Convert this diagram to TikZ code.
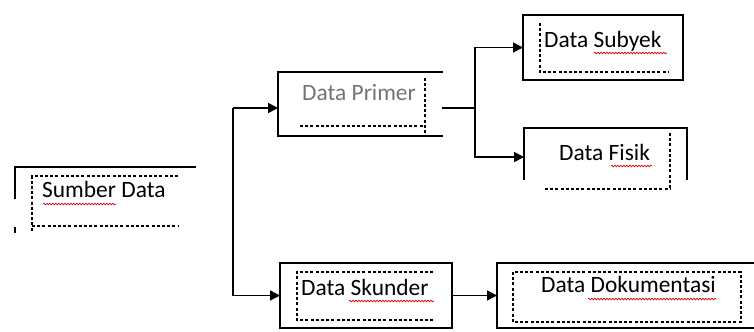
\documentclass[tikz,border=0pt]{standalone}
\usepackage{fontspec}
\setmainfont{Carlito}
\usetikzlibrary{arrows.meta,decorations.pathmorphing}

\begin{document}
\begin{tikzpicture}[x=1bp,y=-1bp,
  area/.style={draw=none,inner sep=0pt,outer sep=0pt,minimum width=#1},
  frame/.style={line width=1.8bp,line cap=rect},
  inner/.style={line width=1.4bp,dash pattern=on 3bp off 2.2bp},
  conn/.style={line width=1.5bp},
  arr/.style={conn,-{Triangle[length=10bp,width=10bp]}},
  lbl/.style={anchor=base west,inner sep=0pt,font=\fontsize{23.5}{27}\selectfont},
  spell/.style={red!85!black,line width=0.7bp,decorate,
    decoration={snake,amplitude=0.8bp,segment length=3bp}}]
\useasboundingbox (0,0) rectangle (754,331);

% invisible outer areas of the boxes
\node[area=180bp,minimum height=65bp] (sumber) at (105,199.5) {};
\node[area=164bp,minimum height=64bp] (primer) at (360,104) {};
\node[area=160bp,minimum height=65bp] (subyek) at (603,47.5) {};
\node[area=163bp,minimum height=58bp] (fisik) at (605.5,157) {};
\node[area=172bp,minimum height=65bp] (skunder) at (366,295.5) {};
\node[area=263bp,minimum height=65bp] (dokumentasi) at (628.5,295.5) {};

% labels
\node[lbl] (sumberT) at (42,197) {Sumber Data};
\node[lbl,text=black!55] (primerT) at (302,100) {Data Primer};
\node[lbl] (subyekT) at (544,47) {Data Subyek};
\node[lbl] (fisikT) at (559,160) {Data Fisik};
\node[lbl] (skunderT) at (301,295) {Data Skunder};
\node[lbl] (dokumentasiT) at (541,292) {Data Dokumentasi};

% outer frames (partly drawn)
\draw[frame] (sumber.north east) -- (sumber.north west) -- ++(0,31);
\draw[frame] (15,228) -- (15,232);
\draw[frame] (primer.north east) -- (primer.north west) -- (primer.south west) -- (primer.south east);
\draw[frame] (subyek.north west) rectangle (subyek.south east);
\draw[frame] ([yshift=7bp]fisik.south west) -- (fisik.north west) -- (fisik.north east) -- ([yshift=7bp]fisik.south east);
\draw[frame] (skunder.north west) rectangle (skunder.south east);
\draw[frame] (dokumentasi.north east) -- (dokumentasi.north west) -- (dokumentasi.south west) -- (dokumentasi.south east);

% dashed inner frames
\draw[inner] (178,176) -- (32,176) -- (32,232);
\draw[inner] (32,226) -- (178,226);
\draw[inner] (425,78) -- (425,137);
\draw[inner] (300,126) -- (425,126);
\draw[inner] (540,23) -- (540,72) -- (668,72);
\draw[inner] (670,133) -- (670,189);
\draw[inner] (545,189) -- (670,189);
\draw[inner] (433,272) -- (297,272) -- (297,320) -- (433,320);
\draw[inner] (513,272) rectangle (741,322);

% spelling marks
\draw[spell] (43,204) -- (116,204);
\draw[spell] (594,53) -- (667,53);
\draw[spell] (611,166) -- (652,166);
\draw[spell] (349,301) -- (434,301);
\draw[spell] (588,299) -- (716,299);

% connectors
\coordinate (split) at (233,108);
\coordinate (fork) at (475,108);
\draw[arr] (split) -- (split -| primer.west);
\draw[arr] (split) |- (skunder.west);
\draw[conn] (primer.east |- fork) -- (fork);
\draw[arr] (fork) |- (subyek.west);
\draw[arr] (fork) |- (fisik.west);
\draw[arr] (skunder.east) -- (dokumentasi.west);
\end{tikzpicture}
\end{document}
